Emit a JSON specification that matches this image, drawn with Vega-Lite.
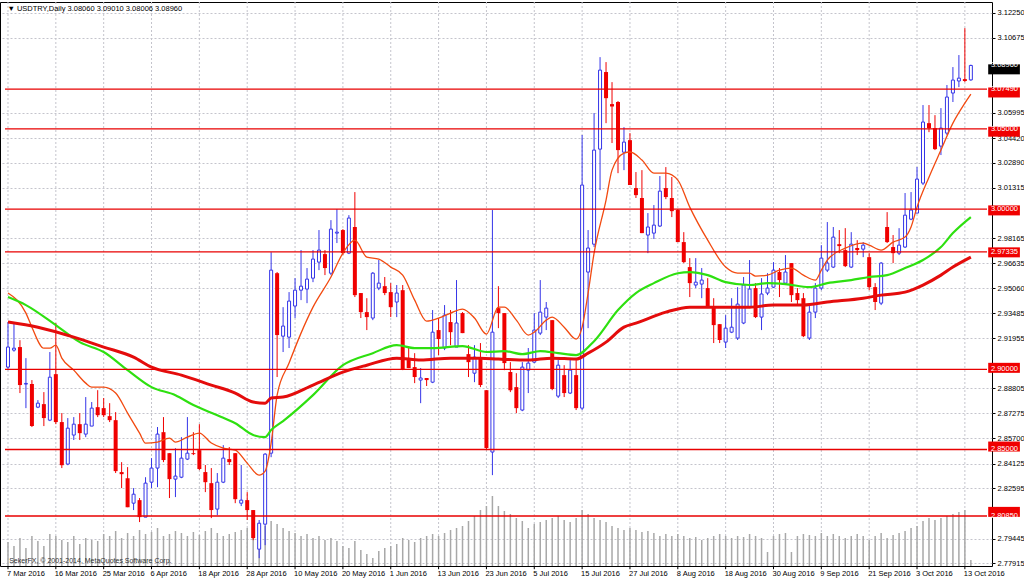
{
"$schema": "https://vega.github.io/schema/vega-lite/v6.json",
"width": 992, "height": 564,
"autosize": {"type": "none"},
"padding": {"left": 0, "top": 2, "right": 32, "bottom": 13},
"background": "white",
"config": {"view": {"stroke": "#000000", "strokeWidth": 1}, "font": "Liberation Sans"},
"datasets": {
"bars": [
{"i":0,"o":2.9014,"h":2.9295,"l":2.8995,"c":2.9139,"v":240},
{"i":1,"o":2.9120,"h":2.9289,"l":2.9110,"c":2.9132,"v":200},
{"i":2,"o":2.9139,"h":2.9182,"l":2.8852,"c":2.8902,"v":280},
{"i":3,"o":2.8908,"h":2.9070,"l":2.8758,"c":2.8912,"v":180},
{"i":4,"o":2.8908,"h":2.8933,"l":2.8640,"c":2.8646,"v":300},
{"i":5,"o":2.8764,"h":2.8808,"l":2.8758,"c":2.8789,"v":250},
{"i":6,"o":2.8783,"h":2.8858,"l":2.8646,"c":2.8696,"v":200},
{"i":7,"o":2.8683,"h":2.9108,"l":2.8677,"c":2.8951,"v":320},
{"i":8,"o":2.8970,"h":2.9289,"l":2.8658,"c":2.8671,"v":300},
{"i":9,"o":2.8671,"h":2.8727,"l":2.8384,"c":2.8402,"v":260},
{"i":10,"o":2.8409,"h":2.8696,"l":2.8402,"c":2.8633,"v":240},
{"i":11,"o":2.8590,"h":2.8702,"l":2.8559,"c":2.8658,"v":300},
{"i":12,"o":2.8658,"h":2.8727,"l":2.8559,"c":2.8602,"v":220},
{"i":13,"o":2.8596,"h":2.8827,"l":2.8577,"c":2.8658,"v":280},
{"i":14,"o":2.8646,"h":2.8796,"l":2.8646,"c":2.8758,"v":260},
{"i":15,"o":2.8764,"h":2.8870,"l":2.8702,"c":2.8714,"v":250},
{"i":16,"o":2.8758,"h":2.8821,"l":2.8702,"c":2.8714,"v":320},
{"i":17,"o":2.8708,"h":2.8789,"l":2.8671,"c":2.8683,"v":300},
{"i":18,"o":2.8683,"h":2.8733,"l":2.8353,"c":2.8365,"v":350},
{"i":19,"o":2.8359,"h":2.8421,"l":2.8259,"c":2.8346,"v":280},
{"i":20,"o":2.8321,"h":2.8390,"l":2.8140,"c":2.8140,"v":330},
{"i":21,"o":2.8165,"h":2.8259,"l":2.8122,"c":2.8221,"v":300},
{"i":22,"o":2.8184,"h":2.8197,"l":2.8047,"c":2.8078,"v":360},
{"i":23,"o":2.8078,"h":2.8327,"l":2.8078,"c":2.8290,"v":320},
{"i":24,"o":2.8296,"h":2.8446,"l":2.8259,"c":2.8384,"v":340},
{"i":25,"o":2.8384,"h":2.8640,"l":2.8265,"c":2.8596,"v":380},
{"i":26,"o":2.8608,"h":2.8702,"l":2.8421,"c":2.8434,"v":300},
{"i":27,"o":2.8477,"h":2.8477,"l":2.8197,"c":2.8315,"v":320},
{"i":28,"o":2.8315,"h":2.8508,"l":2.8203,"c":2.8334,"v":350},
{"i":29,"o":2.8327,"h":2.8577,"l":2.8321,"c":2.8446,"v":330},
{"i":30,"o":2.8440,"h":2.8702,"l":2.8434,"c":2.8477,"v":300},
{"i":31,"o":2.8477,"h":2.8608,"l":2.8465,"c":2.8471,"v":340},
{"i":32,"o":2.8496,"h":2.8658,"l":2.8371,"c":2.8378,"v":310},
{"i":33,"o":2.8359,"h":2.8403,"l":2.8234,"c":2.8296,"v":350},
{"i":34,"o":2.8290,"h":2.8384,"l":2.8072,"c":2.8122,"v":380},
{"i":35,"o":2.8128,"h":2.8353,"l":2.8090,"c":2.8296,"v":330},
{"i":36,"o":2.8296,"h":2.8527,"l":2.8290,"c":2.8446,"v":300},
{"i":37,"o":2.8440,"h":2.8515,"l":2.8403,"c":2.8421,"v":320},
{"i":38,"o":2.8477,"h":2.8477,"l":2.8165,"c":2.8190,"v":340},
{"i":39,"o":2.8165,"h":2.8403,"l":2.8147,"c":2.8184,"v":360},
{"i":40,"o":2.8184,"h":2.8234,"l":2.8060,"c":2.8122,"v":380},
{"i":41,"o":2.8122,"h":2.8122,"l":2.7934,"c":2.7947,"v":360},
{"i":42,"o":2.7878,"h":2.8060,"l":2.7822,"c":2.8040,"v":420},
{"i":43,"o":2.8034,"h":2.8477,"l":2.7903,"c":2.8471,"v":400},
{"i":44,"o":2.8477,"h":2.9731,"l":2.8452,"c":2.9619,"v":450},
{"i":45,"o":2.9600,"h":2.9607,"l":2.8952,"c":2.9214,"v":420},
{"i":46,"o":2.9207,"h":2.9388,"l":2.9108,"c":2.9270,"v":380},
{"i":47,"o":2.9201,"h":2.9482,"l":2.9133,"c":2.9426,"v":350},
{"i":48,"o":2.9395,"h":2.9569,"l":2.9320,"c":2.9494,"v":330},
{"i":49,"o":2.9494,"h":2.9744,"l":2.9432,"c":2.9519,"v":300},
{"i":50,"o":2.9501,"h":2.9632,"l":2.9413,"c":2.9563,"v":320},
{"i":51,"o":2.9569,"h":2.9744,"l":2.9544,"c":2.9688,"v":280},
{"i":52,"o":2.9669,"h":2.9869,"l":2.9619,"c":2.9744,"v":300},
{"i":53,"o":2.9719,"h":2.9744,"l":2.9588,"c":2.9632,"v":260},
{"i":54,"o":2.9600,"h":2.9931,"l":2.9588,"c":2.9875,"v":280},
{"i":55,"o":2.9850,"h":3.0000,"l":2.9788,"c":2.9856,"v":250},
{"i":56,"o":2.9869,"h":2.9875,"l":2.9713,"c":2.9725,"v":200},
{"i":57,"o":2.9725,"h":2.9962,"l":2.9719,"c":2.9944,"v":180},
{"i":58,"o":2.9888,"h":3.0106,"l":2.9451,"c":2.9463,"v":250},
{"i":59,"o":2.9476,"h":2.9476,"l":2.9320,"c":2.9357,"v":160},
{"i":60,"o":2.9357,"h":2.9444,"l":2.9245,"c":2.9326,"v":120},
{"i":61,"o":2.9320,"h":2.9607,"l":2.9307,"c":2.9600,"v":80},
{"i":62,"o":2.9507,"h":2.9682,"l":2.9494,"c":2.9538,"v":150},
{"i":63,"o":2.9519,"h":2.9576,"l":2.9463,"c":2.9476,"v":180},
{"i":64,"o":2.9482,"h":2.9538,"l":2.9326,"c":2.9388,"v":200},
{"i":65,"o":2.9420,"h":2.9526,"l":2.9326,"c":2.9476,"v":220},
{"i":66,"o":2.9494,"h":2.9526,"l":2.8995,"c":2.9001,"v":280},
{"i":67,"o":2.9058,"h":2.9133,"l":2.9008,"c":2.9008,"v":260},
{"i":68,"o":2.9014,"h":2.9101,"l":2.8914,"c":2.8952,"v":240},
{"i":69,"o":2.8933,"h":2.9008,"l":2.8789,"c":2.8946,"v":280},
{"i":70,"o":2.8946,"h":2.8946,"l":2.8896,"c":2.8933,"v":300},
{"i":71,"o":2.8920,"h":2.9370,"l":2.8914,"c":2.9232,"v":320},
{"i":72,"o":2.9245,"h":2.9320,"l":2.9089,"c":2.9189,"v":300},
{"i":73,"o":2.9133,"h":2.9401,"l":2.9120,"c":2.9338,"v":330},
{"i":74,"o":2.9295,"h":2.9370,"l":2.9151,"c":2.9232,"v":360},
{"i":75,"o":2.9139,"h":2.9557,"l":2.9139,"c":2.9289,"v":380},
{"i":76,"o":2.9351,"h":2.9357,"l":2.9226,"c":2.9226,"v":400},
{"i":77,"o":2.9095,"h":2.9151,"l":2.8952,"c":2.9045,"v":450},
{"i":78,"o":2.8976,"h":2.9151,"l":2.8920,"c":2.9076,"v":500},
{"i":79,"o":2.9070,"h":2.9164,"l":2.8889,"c":2.8902,"v":560},
{"i":80,"o":2.8870,"h":2.8870,"l":2.8496,"c":2.8509,"v":600},
{"i":81,"o":2.8484,"h":2.9994,"l":2.8340,"c":2.9232,"v":700},
{"i":82,"o":2.9382,"h":2.9519,"l":2.9257,"c":2.9351,"v":600},
{"i":83,"o":2.9351,"h":2.9351,"l":2.8995,"c":2.9039,"v":550},
{"i":84,"o":2.8983,"h":2.9045,"l":2.8858,"c":2.8870,"v":520},
{"i":85,"o":2.8889,"h":2.8976,"l":2.8727,"c":2.8758,"v":480},
{"i":86,"o":2.8746,"h":2.9045,"l":2.8739,"c":2.9014,"v":450},
{"i":87,"o":2.8995,"h":2.9133,"l":2.8852,"c":2.9039,"v":380},
{"i":88,"o":2.9045,"h":2.9351,"l":2.9039,"c":2.9245,"v":420},
{"i":89,"o":2.9226,"h":2.9557,"l":2.9214,"c":2.9357,"v":440},
{"i":90,"o":2.9326,"h":2.9420,"l":2.9245,"c":2.9382,"v":460},
{"i":91,"o":2.9307,"h":2.9307,"l":2.8870,"c":2.8877,"v":480},
{"i":92,"o":2.8833,"h":2.9058,"l":2.8821,"c":2.9026,"v":500},
{"i":93,"o":2.8964,"h":2.9026,"l":2.8827,"c":2.8852,"v":460},
{"i":94,"o":2.8852,"h":2.9058,"l":2.8846,"c":2.8995,"v":440},
{"i":95,"o":2.8964,"h":2.9058,"l":2.8746,"c":2.8758,"v":480},
{"i":96,"o":2.8758,"h":3.0462,"l":2.8746,"c":3.0150,"v":560},
{"i":97,"o":2.9607,"h":2.9869,"l":2.9257,"c":2.9757,"v":520},
{"i":98,"o":2.9781,"h":3.0599,"l":2.9763,"c":3.0368,"v":480},
{"i":99,"o":3.0374,"h":3.0948,"l":3.0118,"c":3.0867,"v":460},
{"i":100,"o":3.0855,"h":3.0917,"l":3.0536,"c":3.0692,"v":440},
{"i":101,"o":3.0655,"h":3.0792,"l":3.0412,"c":3.0640,"v":400},
{"i":102,"o":3.0668,"h":3.0674,"l":3.0224,"c":3.0368,"v":380},
{"i":103,"o":3.0355,"h":3.0511,"l":3.0243,"c":3.0418,"v":360},
{"i":104,"o":3.0430,"h":3.0474,"l":3.0150,"c":3.0150,"v":380},
{"i":105,"o":3.0131,"h":3.0231,"l":3.0069,"c":3.0087,"v":360},
{"i":106,"o":3.0069,"h":3.0243,"l":2.9850,"c":2.9850,"v":340},
{"i":107,"o":2.9838,"h":2.9975,"l":2.9725,"c":2.9888,"v":350},
{"i":108,"o":2.9850,"h":3.0025,"l":2.9813,"c":2.9900,"v":330},
{"i":109,"o":2.9894,"h":3.0206,"l":2.9888,"c":3.0112,"v":300},
{"i":110,"o":3.0131,"h":3.0262,"l":3.0062,"c":3.0075,"v":320},
{"i":111,"o":3.0069,"h":3.0200,"l":2.9950,"c":2.9987,"v":300},
{"i":112,"o":2.9994,"h":3.0000,"l":2.9794,"c":2.9794,"v":320},
{"i":113,"o":2.9794,"h":2.9856,"l":2.9663,"c":2.9669,"v":300},
{"i":114,"o":2.9638,"h":2.9694,"l":2.9451,"c":2.9538,"v":280},
{"i":115,"o":2.9526,"h":2.9694,"l":2.9507,"c":2.9544,"v":290},
{"i":116,"o":2.9532,"h":2.9632,"l":2.9444,"c":2.9557,"v":260},
{"i":117,"o":2.9507,"h":2.9569,"l":2.9382,"c":2.9388,"v":280},
{"i":118,"o":2.9388,"h":2.9444,"l":2.9164,"c":2.9276,"v":300},
{"i":119,"o":2.9282,"h":2.9282,"l":2.9164,"c":2.9183,"v":320},
{"i":120,"o":2.9170,"h":2.9338,"l":2.9133,"c":2.9257,"v":300},
{"i":121,"o":2.9232,"h":2.9444,"l":2.9226,"c":2.9263,"v":280},
{"i":122,"o":2.9195,"h":2.9513,"l":2.9183,"c":2.9407,"v":300},
{"i":123,"o":2.9289,"h":2.9576,"l":2.9282,"c":2.9526,"v":290},
{"i":124,"o":2.9388,"h":2.9682,"l":2.9382,"c":2.9501,"v":320},
{"i":125,"o":2.9507,"h":2.9538,"l":2.9320,"c":2.9326,"v":300},
{"i":126,"o":2.9326,"h":2.9569,"l":2.9245,"c":2.9470,"v":280},
{"i":127,"o":2.9476,"h":2.9600,"l":2.9463,"c":2.9507,"v":140},
{"i":128,"o":2.9513,"h":2.9669,"l":2.9507,"c":2.9619,"v":300},
{"i":129,"o":2.9607,"h":2.9632,"l":2.9451,"c":2.9557,"v":320},
{"i":130,"o":2.9538,"h":2.9713,"l":2.9526,"c":2.9607,"v":330},
{"i":131,"o":2.9663,"h":2.9663,"l":2.9420,"c":2.9463,"v":140},
{"i":132,"o":2.9476,"h":2.9507,"l":2.9401,"c":2.9432,"v":300},
{"i":133,"o":2.9444,"h":2.9476,"l":2.9201,"c":2.9207,"v":320},
{"i":134,"o":2.9195,"h":2.9413,"l":2.9183,"c":2.9357,"v":310},
{"i":135,"o":2.9357,"h":2.9538,"l":2.9320,"c":2.9507,"v":300},
{"i":136,"o":2.9507,"h":2.9775,"l":2.9494,"c":2.9694,"v":330},
{"i":137,"o":2.9619,"h":2.9919,"l":2.9607,"c":2.9663,"v":300},
{"i":138,"o":2.9638,"h":2.9888,"l":2.9632,"c":2.9825,"v":320},
{"i":139,"o":2.9781,"h":2.9869,"l":2.9725,"c":2.9769,"v":300},
{"i":140,"o":2.9744,"h":2.9881,"l":2.9638,"c":2.9644,"v":280},
{"i":141,"o":2.9638,"h":2.9856,"l":2.9632,"c":2.9781,"v":300},
{"i":142,"o":2.9757,"h":2.9806,"l":2.9713,"c":2.9744,"v":320},
{"i":143,"o":2.9750,"h":2.9794,"l":2.9700,"c":2.9775,"v":300},
{"i":144,"o":2.9700,"h":2.9725,"l":2.9494,"c":2.9513,"v":260},
{"i":145,"o":2.9513,"h":2.9538,"l":2.9370,"c":2.9420,"v":300},
{"i":146,"o":2.9413,"h":2.9669,"l":2.9401,"c":2.9663,"v":330},
{"i":147,"o":2.9888,"h":2.9981,"l":2.9788,"c":2.9794,"v":280},
{"i":148,"o":2.9763,"h":2.9838,"l":2.9663,"c":2.9725,"v":310},
{"i":149,"o":2.9725,"h":2.9881,"l":2.9713,"c":2.9775,"v":330},
{"i":150,"o":2.9763,"h":3.0100,"l":2.9757,"c":2.9962,"v":350},
{"i":151,"o":2.9937,"h":3.0106,"l":2.9931,"c":2.9994,"v":380},
{"i":152,"o":2.9975,"h":3.0262,"l":2.9975,"c":3.0187,"v":400},
{"i":153,"o":3.0162,"h":3.0649,"l":3.0150,"c":3.0543,"v":450},
{"i":154,"o":3.0536,"h":3.0649,"l":3.0480,"c":3.0505,"v":480},
{"i":155,"o":3.0505,"h":3.0586,"l":3.0368,"c":3.0374,"v":460},
{"i":156,"o":3.0393,"h":3.0630,"l":3.0337,"c":3.0505,"v":480},
{"i":157,"o":3.0474,"h":3.0774,"l":3.0462,"c":3.0699,"v":500},
{"i":158,"o":3.0724,"h":3.0886,"l":3.0668,"c":3.0805,"v":520},
{"i":159,"o":3.0799,"h":3.0961,"l":3.0761,"c":3.0817,"v":540},
{"i":160,"o":3.0811,"h":3.1129,"l":3.0792,"c":3.0799,"v":560},
{"i":161,"o":3.0806,"h":3.0901,"l":3.08006,"c":3.0896,"v":60}
],
"ma": [
{"b":0,"n":"fast","v":2.9476},{"b":3,"n":"fast","v":2.9351},{"b":4,"n":"fast","v":2.9263},{"b":6,"n":"fast","v":2.9132},{"b":7,"n":"fast","v":2.9132},{"b":8,"n":"fast","v":2.9151},{"b":9,"n":"fast","v":2.9070},{"b":11,"n":"fast","v":2.8995},{"b":13,"n":"fast","v":2.8914},{"b":14,"n":"fast","v":2.8889},{"b":16,"n":"fast","v":2.8889},{"b":18,"n":"fast","v":2.8852},{"b":20,"n":"fast","v":2.8727},{"b":22,"n":"fast","v":2.8602},{"b":23,"n":"fast","v":2.8540},{"b":25,"n":"fast","v":2.8546},{"b":27,"n":"fast","v":2.8571},{"b":28,"n":"fast","v":2.8546},{"b":30,"n":"fast","v":2.8577},{"b":32,"n":"fast","v":2.8602},{"b":34,"n":"fast","v":2.8540},{"b":36,"n":"fast","v":2.8508},{"b":38,"n":"fast","v":2.8496},{"b":40,"n":"fast","v":2.8415},{"b":42,"n":"fast","v":2.8340},{"b":43,"n":"fast","v":2.8365},{"b":44,"n":"fast","v":2.8540},{"b":45,"n":"fast","v":2.8839},{"b":47,"n":"fast","v":2.9039},{"b":49,"n":"fast","v":2.9226},{"b":51,"n":"fast","v":2.9388},{"b":54,"n":"fast","v":2.9576},{"b":56,"n":"fast","v":2.9725},{"b":58,"n":"fast","v":2.9806},{"b":60,"n":"fast","v":2.9700},{"b":62,"n":"fast","v":2.9688},{"b":64,"n":"fast","v":2.9638},{"b":66,"n":"fast","v":2.9588},{"b":68,"n":"fast","v":2.9432},{"b":70,"n":"fast","v":2.9301},{"b":72,"n":"fast","v":2.9320},{"b":74,"n":"fast","v":2.9351},{"b":76,"n":"fast","v":2.9376},{"b":78,"n":"fast","v":2.9320},{"b":80,"n":"fast","v":2.9220},{"b":82,"n":"fast","v":2.9388},{"b":83,"n":"fast","v":2.9388},{"b":85,"n":"fast","v":2.9307},{"b":87,"n":"fast","v":2.9214},{"b":88,"n":"fast","v":2.9232},{"b":90,"n":"fast","v":2.9307},{"b":91,"n":"fast","v":2.9326},{"b":93,"n":"fast","v":2.9263},{"b":95,"n":"fast","v":2.9189},{"b":96,"n":"fast","v":2.9263},{"b":97,"n":"fast","v":2.9476},{"b":98,"n":"fast","v":2.9725},{"b":100,"n":"fast","v":3.0056},{"b":101,"n":"fast","v":3.0243},{"b":103,"n":"fast","v":3.0349},{"b":104,"n":"fast","v":3.0356},{"b":106,"n":"fast","v":3.0306},{"b":108,"n":"fast","v":3.0224},{"b":110,"n":"fast","v":3.0224},{"b":112,"n":"fast","v":3.0181},{"b":114,"n":"fast","v":3.0012},{"b":117,"n":"fast","v":2.9806},{"b":120,"n":"fast","v":2.9638},{"b":122,"n":"fast","v":2.9600},{"b":124,"n":"fast","v":2.9600},{"b":125,"n":"fast","v":2.9582},{"b":127,"n":"fast","v":2.9588},{"b":129,"n":"fast","v":2.9619},{"b":131,"n":"fast","v":2.9632},{"b":133,"n":"fast","v":2.9588},{"b":135,"n":"fast","v":2.9557},{"b":136,"n":"fast","v":2.9619},{"b":137,"n":"fast","v":2.9682},{"b":140,"n":"fast","v":2.9756},{"b":143,"n":"fast","v":2.9788},{"b":144,"n":"fast","v":2.9775},{"b":146,"n":"fast","v":2.9744},{"b":148,"n":"fast","v":2.9794},{"b":150,"n":"fast","v":2.9825},{"b":151,"n":"fast","v":2.9888},{"b":152,"n":"fast","v":3.0012},{"b":154,"n":"fast","v":3.0199},{"b":156,"n":"fast","v":3.0368},{"b":158,"n":"fast","v":3.0536},{"b":160,"n":"fast","v":3.0661},{"b":161,"n":"fast","v":3.0717},
{"b":0,"n":"mid","v":2.9451},{"b":3,"n":"mid","v":2.9401},{"b":8,"n":"mid","v":2.9276},{"b":12,"n":"mid","v":2.9170},{"b":16,"n":"mid","v":2.9108},{"b":20,"n":"mid","v":2.8995},{"b":24,"n":"mid","v":2.8889},{"b":28,"n":"mid","v":2.8839},{"b":31,"n":"mid","v":2.8777},{"b":35,"n":"mid","v":2.8714},{"b":38,"n":"mid","v":2.8664},{"b":41,"n":"mid","v":2.8590},{"b":43,"n":"mid","v":2.8577},{"b":44,"n":"mid","v":2.8621},{"b":46,"n":"mid","v":2.8677},{"b":51,"n":"mid","v":2.8839},{"b":56,"n":"mid","v":2.9026},{"b":61,"n":"mid","v":2.9101},{"b":65,"n":"mid","v":2.9151},{"b":68,"n":"mid","v":2.9132},{"b":71,"n":"mid","v":2.9132},{"b":76,"n":"mid","v":2.9145},{"b":80,"n":"mid","v":2.9108},{"b":83,"n":"mid","v":2.9114},{"b":86,"n":"mid","v":2.9095},{"b":89,"n":"mid","v":2.9114},{"b":92,"n":"mid","v":2.9101},{"b":95,"n":"mid","v":2.9089},{"b":98,"n":"mid","v":2.9176},{"b":102,"n":"mid","v":2.9370},{"b":105,"n":"mid","v":2.9476},{"b":108,"n":"mid","v":2.9538},{"b":112,"n":"mid","v":2.9600},{"b":114,"n":"mid","v":2.9607},{"b":117,"n":"mid","v":2.9588},{"b":120,"n":"mid","v":2.9544},{"b":124,"n":"mid","v":2.9526},{"b":127,"n":"mid","v":2.9538},{"b":130,"n":"mid","v":2.9532},{"b":134,"n":"mid","v":2.9513},{"b":137,"n":"mid","v":2.9538},{"b":141,"n":"mid","v":2.9557},{"b":144,"n":"mid","v":2.9576},{"b":147,"n":"mid","v":2.9588},{"b":150,"n":"mid","v":2.9632},{"b":153,"n":"mid","v":2.9682},{"b":156,"n":"mid","v":2.9763},{"b":158,"n":"mid","v":2.9850},{"b":161,"n":"mid","v":2.9950},
{"b":0,"n":"slow","v":2.9295},{"b":5,"n":"slow","v":2.9263},{"b":11,"n":"slow","v":2.9201},{"b":16,"n":"slow","v":2.9139},{"b":21,"n":"slow","v":2.9076},{"b":24,"n":"slow","v":2.9014},{"b":29,"n":"slow","v":2.8964},{"b":34,"n":"slow","v":2.8902},{"b":38,"n":"slow","v":2.8852},{"b":41,"n":"slow","v":2.8796},{"b":43,"n":"slow","v":2.8789},{"b":44,"n":"slow","v":2.8821},{"b":46,"n":"slow","v":2.8827},{"b":51,"n":"slow","v":2.8902},{"b":56,"n":"slow","v":2.8983},{"b":60,"n":"slow","v":2.9026},{"b":65,"n":"slow","v":2.9070},{"b":69,"n":"slow","v":2.9058},{"b":74,"n":"slow","v":2.9070},{"b":79,"n":"slow","v":2.9070},{"b":82,"n":"slow","v":2.9064},{"b":87,"n":"slow","v":2.9058},{"b":91,"n":"slow","v":2.9070},{"b":95,"n":"slow","v":2.9064},{"b":97,"n":"slow","v":2.9101},{"b":100,"n":"slow","v":2.9170},{"b":103,"n":"slow","v":2.9263},{"b":105,"n":"slow","v":2.9288},{"b":110,"n":"slow","v":2.9357},{"b":114,"n":"slow","v":2.9388},{"b":119,"n":"slow","v":2.9388},{"b":124,"n":"slow","v":2.9388},{"b":128,"n":"slow","v":2.9401},{"b":133,"n":"slow","v":2.9401},{"b":137,"n":"slow","v":2.9420},{"b":143,"n":"slow","v":2.9444},{"b":146,"n":"slow","v":2.9463},{"b":150,"n":"slow","v":2.9482},{"b":153,"n":"slow","v":2.9526},{"b":156,"n":"slow","v":2.9588},{"b":158,"n":"slow","v":2.9638},{"b":161,"n":"slow","v":2.9700}
],
"levels": [{"p":3.0749},{"p":3.05},{"p":3.0},{"p":2.97335},{"p":2.9},{"p":2.85},{"p":2.8085}],
"tags": [
{"p":3.0896,"label":"3.08960","kind":"price"},
{"p":3.0749,"label":"3.07490","kind":"level"},
{"p":3.05,"label":"3.05000","kind":"level"},
{"p":3.0,"label":"3.00000","kind":"level"},
{"p":2.97335,"label":"2.97335","kind":"level"},
{"p":2.9,"label":"2.90000","kind":"level"},
{"p":2.85,"label":"2.85000","kind":"level"},
{"p":2.8085,"label":"2.80850","kind":"level"}
],
"dates": [
{"i":0,"d":"7 Mar 2016"},{"i":8,"d":"16 Mar 2016"},{"i":16,"d":"25 Mar 2016"},{"i":24,"d":"6 Apr 2016"},{"i":32,"d":"18 Apr 2016"},{"i":40,"d":"28 Apr 2016"},{"i":48,"d":"10 May 2016"},{"i":56,"d":"20 May 2016"},{"i":64,"d":"1 Jun 2016"},{"i":72,"d":"13 Jun 2016"},{"i":80,"d":"23 Jun 2016"},{"i":88,"d":"5 Jul 2016"},{"i":96,"d":"15 Jul 2016"},{"i":104,"d":"27 Jul 2016"},{"i":112,"d":"8 Aug 2016"},{"i":120,"d":"18 Aug 2016"},{"i":128,"d":"30 Aug 2016"},{"i":136,"d":"9 Sep 2016"},{"i":144,"d":"21 Sep 2016"},{"i":152,"d":"3 Oct 2016"},{"i":160,"d":"13 Oct 2016"}
]
},
"layer": [
{
"data": {"name": "dates"},
"mark": {"type": "rule", "color": "#c4c4cc", "strokeWidth": 1, "strokeDash": [2, 2]},
"encoding": {
"x": {"field": "i", "type": "quantitative", "scale": {"domain": [-0.5, 163.7], "nice": false, "zero": false}, "axis": null}
}
},
{
"data": {"name": "dates"},
"mark": {"type": "rule", "color": "#000000", "strokeWidth": 1},
"encoding": {
"x": {"field": "i", "type": "quantitative", "scale": {"domain": [-0.5, 163.7], "nice": false, "zero": false}, "axis": null},
"y": {"datum": 2.7773, "type": "quantitative", "scale": {"domain": [2.7773, 3.1292], "nice": false, "zero": false}, "axis": null},
"y2": {"datum": 2.7753}
}
},
{
"data": {"name": "dates"},
"mark": {"type": "text", "align": "left", "baseline": "alphabetic", "color": "#000000", "font": "Liberation Sans", "fontSize": 7.5, "dx": -1},
"encoding": {
"x": {"field": "i", "type": "quantitative", "scale": {"domain": [-0.5, 163.7], "nice": false, "zero": false}, "axis": null},
"y": {"datum": 2.7711, "type": "quantitative", "scale": {"domain": [2.7773, 3.1292], "nice": false, "zero": false}, "axis": null},
"text": {"field": "d"}
}
},
{
"data": {"name": "bars"},
"mark": {"type": "rule", "color": "#a8a8a8", "strokeWidth": 1.5},
"encoding": {
"x": {"field": "i", "type": "quantitative", "scale": {"domain": [-0.5, 163.7], "nice": false, "zero": false}, "axis": null},
"y": {"field": "v", "type": "quantitative", "scale": {"domain": [0, 5640], "nice": false}, "axis": null},
"y2": {"datum": 0}
}
},
{
"data": {"name": "bars"},
"mark": {"type": "rule", "strokeWidth": 1},
"encoding": {
"x": {"field": "i", "type": "quantitative", "scale": {"domain": [-0.5, 163.7], "nice": false, "zero": false}, "axis": null},
"y": {"field": "l", "type": "quantitative", "scale": {"domain": [2.7773, 3.1292], "nice": false, "zero": false},
"axis": {"orient": "right", "title": null, "zindex": 0,
"values": [3.1225,3.10675,3.05995,3.0442,3.0289,3.01315,2.98165,2.96635,2.9506,2.93485,2.91955,2.88805,2.87275,2.857,2.84125,2.82595,2.79445,2.77915],
"format": ".5f", "labelFont": "Liberation Sans", "labelFontSize": 7.5, "labelColor": "#000000", "labelPadding": 2, "labelFlush": false, "labelOverlap": false,
"tickSize": 3, "tickColor": "#000000", "domain": false,
"grid": true, "gridColor": "#c4c4cc", "gridDash": [2, 2], "gridWidth": 1}},
"y2": {"field": "h"},
"color": {"condition": {"test": "datum.c >= datum.o", "value": "#3535e8"}, "value": "#f00000"}
}
},
{
"data": {"name": "bars"},
"transform": [{"filter": "datum.c < datum.o"}],
"mark": {"type": "bar", "width": 4, "color": "#f00000"},
"encoding": {
"x": {"field": "i", "type": "quantitative", "scale": {"domain": [-0.5, 163.7], "nice": false, "zero": false}, "axis": null},
"y": {"field": "o", "type": "quantitative", "scale": {"domain": [2.7773, 3.1292], "nice": false, "zero": false}, "axis": null},
"y2": {"field": "c"}
}
},
{
"data": {"name": "bars"},
"transform": [{"filter": "datum.c >= datum.o"}],
"mark": {"type": "bar", "width": 3, "fill": "#ffffff", "stroke": "#3535e8", "strokeWidth": 1},
"encoding": {
"x": {"field": "i", "type": "quantitative", "scale": {"domain": [-0.5, 163.7], "nice": false, "zero": false}, "axis": null},
"y": {"field": "o", "type": "quantitative", "scale": {"domain": [2.7773, 3.1292], "nice": false, "zero": false}, "axis": null},
"y2": {"field": "c"}
}
},
{
"data": {"name": "ma"},
"mark": {"type": "line", "interpolate": "monotone"},
"encoding": {
"x": {"field": "b", "type": "quantitative", "scale": {"domain": [-0.5, 163.7], "nice": false, "zero": false}, "axis": null},
"y": {"field": "v", "type": "quantitative", "scale": {"domain": [2.7773, 3.1292], "nice": false, "zero": false}, "axis": null},
"color": {"field": "n", "type": "nominal", "scale": {"domain": ["fast", "mid", "slow"], "range": ["#f24a10", "#2ee010", "#e40c0c"]}, "legend": null},
"strokeWidth": {"field": "n", "type": "nominal", "scale": {"domain": ["fast", "mid", "slow"], "range": [1.3, 3, 3]}, "legend": null},
"order": {"field": "b", "type": "quantitative"}
}
},
{
"data": {"name": "tags"},
"mark": {"type": "bar", "height": 10},
"encoding": {
"x": {"datum": 163.9, "type": "quantitative", "axis": null}, "x2": {"datum": 169.2},
"y": {"field": "p", "type": "quantitative", "scale": {"domain": [2.7773, 3.1292], "nice": false, "zero": false}, "axis": null},
"color": {"condition": {"test": "datum.kind === 'price'", "value": "#000000"}, "value": "#f00000"}
}
},
{
"data": {"name": "tags"},
"mark": {"type": "text", "align": "left", "baseline": "middle", "color": "#ffffff", "font": "Liberation Sans", "fontSize": 7.5},
"encoding": {
"x": {"datum": 164.35, "type": "quantitative", "axis": null},
"y": {"field": "p", "type": "quantitative", "scale": {"domain": [2.7773, 3.1292], "nice": false, "zero": false}, "axis": null},
"text": {"field": "label"}
}
},
{
"data": {"values": [{"t": "▼ USDTRY,Daily  3.08060 3.09010 3.08006 3.08960"}]},
"mark": {"type": "text", "align": "left", "baseline": "alphabetic", "color": "#000000", "font": "Liberation Sans", "fontSize": 7.5},
"encoding": {
"x": {"datum": -0.1, "type": "quantitative", "axis": null},
"y": {"datum": 3.1238, "type": "quantitative", "scale": {"domain": [2.7773, 3.1292], "nice": false, "zero": false}, "axis": null},
"text": {"field": "t"}
}
},
{
"data": {"values": [{"t": "SekerFX, © 2001-2014, MetaQuotes Software Corp."}]},
"mark": {"type": "text", "align": "left", "baseline": "alphabetic", "color": "#303030", "font": "Liberation Sans", "fontSize": 7},
"encoding": {
"x": {"datum": 0.2, "type": "quantitative", "axis": null},
"y": {"datum": 2.7792, "type": "quantitative", "scale": {"domain": [2.7773, 3.1292], "nice": false, "zero": false}, "axis": null},
"text": {"field": "t"}
}
},
{
"data": {"name": "levels"},
"mark": {"type": "rule", "color": "#e80000", "strokeWidth": 1.3},
"encoding": {
"x": {"datum": -0.5, "type": "quantitative", "axis": null}, "x2": {"datum": 163.7},
"y": {"field": "p", "type": "quantitative", "scale": {"domain": [2.7773, 3.1292], "nice": false, "zero": false}, "axis": null}
}
}
],
"resolve": {"scale": {"y": "independent"}, "axis": {"y": "independent"}}
}
